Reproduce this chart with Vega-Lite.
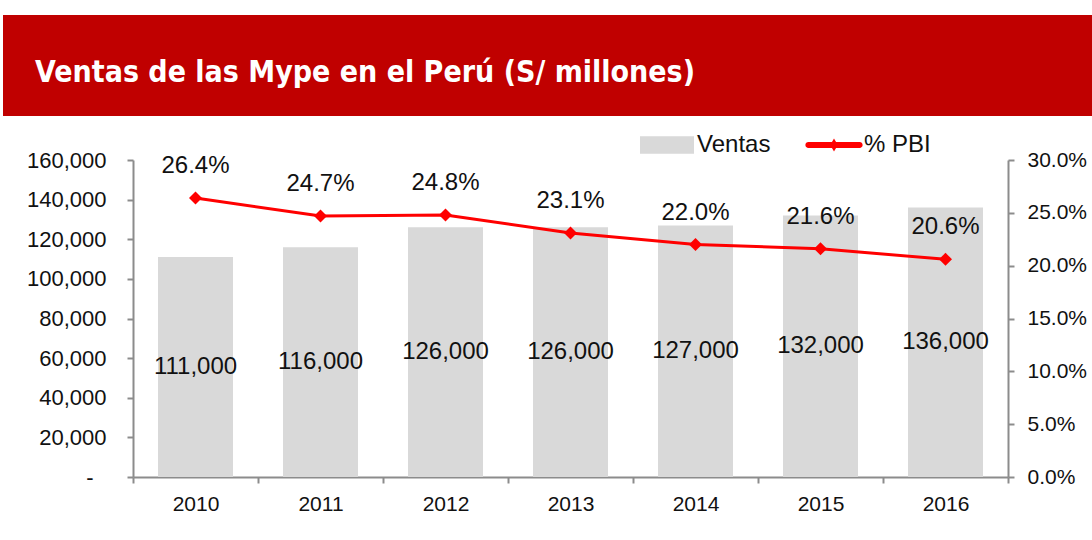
{
  "$schema": "https://vega.github.io/schema/vega-lite/v6.json",
  "padding": {"left": 3, "top": 15, "right": 0, "bottom": 0},
  "background": "white",
  "columns": 1,
  "align": "none",
  "spacing": 2,
  "resolve": {"scale": {"color": "independent"}, "legend": {"color": "independent"}},
  "config": {
    "font": "Liberation Sans",
    "view": {"stroke": null},
    "axis": {
      "domainColor": "#8c8c8c",
      "domainWidth": 2,
      "tickColor": "#8c8c8c",
      "tickWidth": 2,
      "tickSize": 6,
      "labelColor": "#111111",
      "labelFontSize": 21,
      "grid": false,
      "title": null
    }
  },
  "concat": [
    {
      "width": 1089,
      "height": 101,
      "title": {
        "text": "Ventas de las Mype en el Perú (S/ millones)",
        "orient": "top",
        "anchor": "start",
        "frame": "group",
        "offset": -73,
        "dx": 32,
        "color": "white",
        "font": "DejaVu Sans Condensed",
        "fontWeight": "bold",
        "fontSize": 30
      },
      "data": {"values": [{"banda": "titulo"}]},
      "mark": {"type": "rect", "color": "#c00000"},
      "encoding": {}
    },
    {
      "width": 1005,
      "height": 317,
      "data": {
        "values": [
          {"anio": "2010", "ventas": 111000, "pbi": 0.264},
          {"anio": "2011", "ventas": 116000, "pbi": 0.247},
          {"anio": "2012", "ventas": 126000, "pbi": 0.248},
          {"anio": "2013", "ventas": 126000, "pbi": 0.231},
          {"anio": "2014", "ventas": 127000, "pbi": 0.220},
          {"anio": "2015", "ventas": 132000, "pbi": 0.216},
          {"anio": "2016", "ventas": 136000, "pbi": 0.206}
        ]
      },
      "encoding": {
        "x": {
          "field": "anio",
          "type": "nominal",
          "sort": null,
          "scale": {"paddingInner": 0, "paddingOuter": 0, "range": [130, 1005]},
          "axis": {"labelAngle": 0, "tickBand": "extent", "labelPadding": 10, "labelFontSize": 21}
        }
      },
      "layer": [
        {
          "mark": {"type": "bar", "width": {"band": 0.6}},
          "encoding": {
            "y": {
              "field": "ventas",
              "type": "quantitative",
              "scale": {"domain": [0, 160000]},
              "axis": {
                "orient": "left",
                "offset": -130,
                "values": [0, 20000, 40000, 60000, 80000, 100000, 120000, 140000, 160000],
                "labelExpr": "datum.value === 0 ? '-' : format(datum.value, ',')",
                "labelPadding": {"condition": {"test": "datum.value === 0", "value": 34}, "value": 21},
                "labelFontSize": 22
              }
            },
            "color": {
              "datum": "Ventas",
              "scale": {"domain": ["Ventas", "% PBI"], "range": ["#d9d9d9", "#ff0000"]},
              "legend": {
                "title": null,
                "orient": "none",
                "legendX": 637,
                "legendY": -42,
                "direction": "horizontal",
                "labelFontSize": 24,
                "labelColor": "#111111",
                "labelOffset": 3,
                "columnPadding": 34,
                "symbolSize": 2916,
                "symbolStrokeWidth": 0,
                "symbolOpacity": 1,
                "encode": {
                  "symbols": {
                    "update": {
                      "shape": {"signal": "datum.value === 'Ventas' ? 'M-1,-0.32H1V0.32H-1Z' : 'M-0.95,-0.11H0.95A0.11,0.11 0 0 1 0.95,0.11H-0.95A0.11,0.11 0 0 1 -0.95,-0.11Z M0,-0.24L0.14,0L0,0.24L-0.14,0Z'"}
                    }
                  }
                }
              }
            }
          }
        },
        {
          "mark": {"type": "text", "fontSize": 24, "color": "#111111", "baseline": "middle"},
          "encoding": {
            "y": {"field": "ventas", "type": "quantitative", "scale": {"domain": [0, 320000]}, "axis": null},
            "text": {"field": "ventas", "type": "quantitative", "format": ","}
          }
        },
        {
          "encoding": {
            "y": {
              "field": "pbi",
              "type": "quantitative",
              "scale": {"domain": [0, 0.3]},
              "axis": {
                "orient": "right",
                "values": [0, 0.05, 0.1, 0.15, 0.2, 0.25, 0.3],
                "format": ".1%",
                "labelPadding": 13
              }
            }
          },
          "layer": [
            {
              "mark": {"type": "line", "color": "#ff0000", "strokeWidth": 3},
              "encoding": {}
            },
            {
              "mark": {"type": "point", "shape": "diamond", "filled": true, "size": 170, "opacity": 1},
              "encoding": {"color": {"datum": "% PBI"}}
            },
            {
              "mark": {"type": "text", "fontSize": 24, "color": "#111111", "baseline": "middle", "dy": -32},
              "encoding": {"text": {"field": "pbi", "type": "quantitative", "format": ".1%"}}
            }
          ]
        }
      ],
      "resolve": {"scale": {"y": "independent"}}
    }
  ]
}
